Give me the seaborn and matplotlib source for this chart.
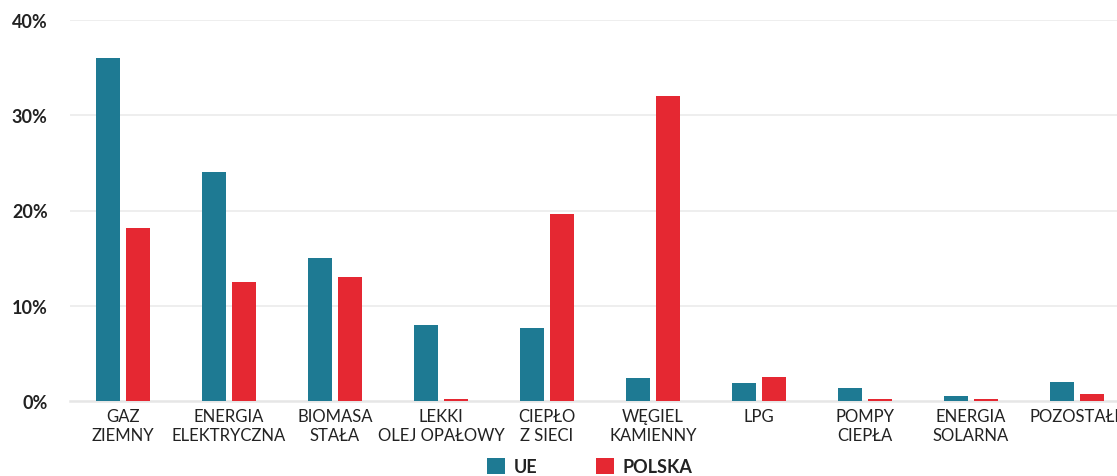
import matplotlib
matplotlib.use("Agg")
import matplotlib.pyplot as plt
import seaborn as sns
import pandas as pd
from matplotlib.patches import Patch
from matplotlib.ticker import FuncFormatter

categories = ["GAZ\nZIEMNY", "ENERGIA\nELEKTRYCZNA", "BIOMASA\nSTAŁA", "LEKKI\nOLEJ OPAŁOWY",
              "CIEPŁO\nZ SIECI", "WĘGIEL\nKAMIENNY", "LPG", "POMPY\nCIEPŁA",
              "ENERGIA\nSOLARNA", "POZOSTAŁE"]
ue = [36.0, 24.0, 15.0, 8.0, 7.7, 2.4, 1.9, 1.4, 0.5, 2.0]
polska = [18.2, 12.5, 13.0, 0.2, 19.6, 32.0, 2.5, 0.2, 0.2, 0.7]
series = ["UE", "POLSKA"]
colors = ["#1e7a93", "#e52832"]
yticks = [0, 10, 20, 30, 40]

df = pd.DataFrame({
    "kategoria": categories * 2,
    "seria": [series[0]] * len(categories) + [series[1]] * len(categories),
    "wartosc": ue + polska,
})

sns.set_theme(style="white")
plt.rcParams["font.family"] = ["Lato", "DejaVu Sans"]

fig = plt.figure(figsize=(11.17, 4.77), dpi=100)
ax = fig.add_axes([70 / 1117, 75 / 477, 1060 / 1117, 381 / 477])

sns.barplot(data=df, x="kategoria", y="wartosc", hue="seria", order=categories,
            hue_order=series, palette=colors, width=0.56, gap=0.18,
            saturation=1, linewidth=0, edgecolor="none", ax=ax, legend=False)

ax.set_ylim(0, 40)
ax.set_xlim(-0.5, len(categories) - 0.5)
ax.set_yticks(yticks)
ax.yaxis.set_major_formatter(FuncFormatter(lambda v, p: f"{v:.0f}%"))
ax.grid(axis="y", color="#ebebeb", linewidth=1.2, zorder=0)
ax.set_axisbelow(True)
for s in ax.spines.values():
    s.set_visible(False)
ax.spines["bottom"].set_visible(True)
ax.spines["bottom"].set_color("#e6e6e6")
ax.spines["bottom"].set_linewidth(1.8)
ax.spines["bottom"].set_zorder(0.5)
ax.set_xlabel("")
ax.set_ylabel("")
ax.tick_params(axis="y", length=0, pad=16, labelsize=13, labelcolor="#222222")
ax.tick_params(axis="x", length=0, pad=5, labelsize=12, labelcolor="#222222")
for t in ax.get_yticklabels():
    t.set_fontweight("bold")

handles = [Patch(facecolor=c, edgecolor="none") for c in colors]
leg = fig.legend(handles, series, loc="center", bbox_to_anchor=(0.528, 9.5 / 477),
                 ncol=2, frameon=False, handlelength=1.0, handleheight=1.0,
                 handletextpad=0.5, columnspacing=3.2,
                 prop={"family": ["Lato", "DejaVu Sans"], "weight": "bold", "size": 13})
for t in leg.get_texts():
    t.set_color("#222222")

fig.savefig("out.png", dpi=100)
